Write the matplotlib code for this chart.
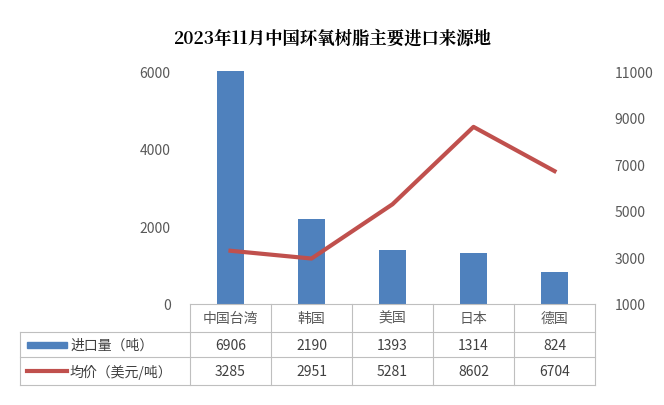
import matplotlib
matplotlib.use("Agg")
import matplotlib.pyplot as plt
from matplotlib.lines import Line2D
from matplotlib.patches import Rectangle
from matplotlib import font_manager as fm

cjk = [f for f in fm.fontManager.ttflist if 'CJK' in f.name]
names = sorted(set(f.name for f in cjk))
pick = None
for pref in ["Noto Sans CJK SC", "Noto Sans CJK JP", "Noto Sans CJK TC", "Noto Sans CJK KR"]:
    if pref in names:
        pick = pref; break
if pick is None and names:
    pick = names[0]
serif = next((n for n in names if 'Serif' in n), pick)
plt.rcParams['font.family'] = [pick, 'DejaVu Sans'] if pick else ['DejaVu Sans']

categories = ["中国台湾", "韩国", "美国", "日本", "德国"]
volume = [6906, 2190, 1393, 1314, 824]
price = [3285, 2951, 5281, 8602, 6704]
s1 = "进口量（吨）"
s2 = "均价（美元/吨）"
title = "2023年11月中国环氧树脂主要进口来源地"

W, H = 664, 406
fig = plt.figure(figsize=(W/100, H/100), dpi=100)
L, R, T, B = 190, 595, 72, 305
ax = fig.add_axes([L/W, 1-B/H, (R-L)/W, (B-T)/H])
x = range(len(categories))
bars = ax.bar(x, volume, width=0.33, color="#4f81bd")
for b in bars:
    b.set_clip_on(True)
ax.set_xlim(-0.5, 4.5)
ax.set_ylim(0, 6000)
ax.set_yticks([0, 2000, 4000, 6000])
ax.set_xticks([])
for s in ax.spines.values():
    s.set_visible(False)
ax.tick_params(axis='y', length=0, labelsize=10, colors="#595959", pad=14)
ax2 = ax.twinx()
ax2.plot(x, price, color="#c0504d", lw=3)
ax2.set_ylim(1000, 11000)
ax2.set_yticks([1000, 3000, 5000, 7000, 9000, 11000])
for s in ax2.spines.values():
    s.set_visible(False)
ax2.tick_params(axis='y', length=0, labelsize=10, colors="#595959", pad=14)

fig.text(0.5, 1-38/H, title, ha='center', va='center', fontsize=12.5, fontweight='bold',
         color='black', family=[serif, 'DejaVu Sans'] if serif else None)

def fx(px): return px/W
def fy(py): return 1-py/H
lc = "#bfbfbf"
rows = [305, 333, 358, 386]
colx = [L + i*(R-L)/5 for i in range(6)]
for i, yy in enumerate(rows):
    x0 = L if i == 0 else 20
    fig.add_artist(Line2D([fx(x0), fx(R)], [fy(yy), fy(yy)], color=lc, lw=0.8))
for cx in colx:
    fig.add_artist(Line2D([fx(cx), fx(cx)], [fy(rows[0]), fy(rows[3])], color=lc, lw=0.8))
fig.add_artist(Line2D([fx(20), fx(20)], [fy(rows[1]), fy(rows[3])], color=lc, lw=0.8))
for i, c in enumerate(categories):
    cx = (colx[i]+colx[i+1])/2
    fig.text(fx(cx), fy((rows[0]+rows[1])/2), c, ha='center', va='center', fontsize=10, color="#595959")
    fig.text(fx(cx), fy((rows[1]+rows[2])/2), str(volume[i]), ha='center', va='center', fontsize=10, color="#404040")
    fig.text(fx(cx), fy((rows[2]+rows[3])/2), str(price[i]), ha='center', va='center', fontsize=10, color="#404040")
ym1 = (rows[1]+rows[2])/2
fig.add_artist(Rectangle((fx(27), fy(ym1+3)), fx(40)-fx(0), 6/H, color="#4f81bd"))
fig.text(fx(70), fy(ym1), s1, ha='left', va='center', fontsize=10, color="#404040")
ym2 = (rows[2]+rows[3])/2
fig.add_artist(Line2D([fx(27), fx(67)], [fy(ym2), fy(ym2)], color="#c0504d", lw=3))
fig.text(fx(70), fy(ym2), s2, ha='left', va='center', fontsize=10, color="#404040")
fig.savefig("out.png", dpi=100)
